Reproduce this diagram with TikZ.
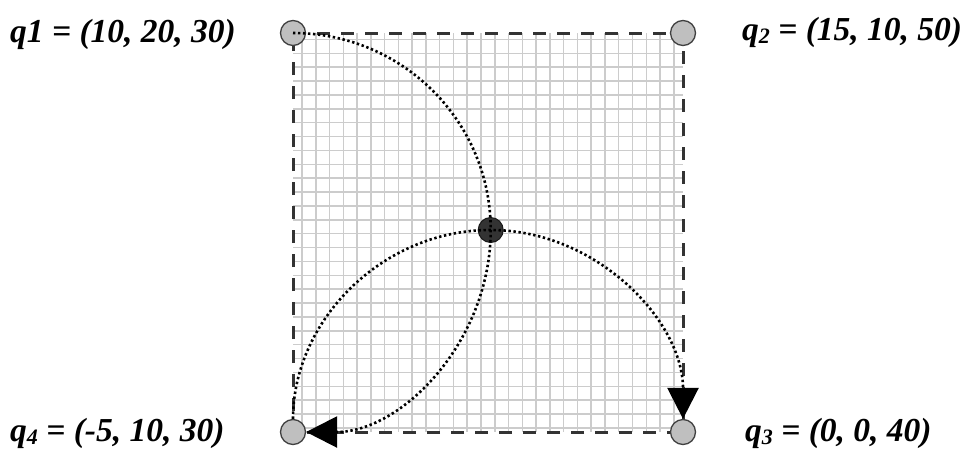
\documentclass[tikz,border=0pt]{standalone}
\usepackage{fontspec}
\setmainfont{Liberation Serif}
\usetikzlibrary{arrows.meta}
\newcommand{\mysub}[1]{\raisebox{-3.5pt}{\fontsize{22}{24}\selectfont #1}}
\begin{document}
\begin{tikzpicture}[x=1pt,y=-1pt,
  corner/.style={circle,draw=black!75,fill=black!25,line width=1.3pt,minimum size=25pt,inner sep=0pt},
  ctr/.style={circle,draw=black!90,fill=black!80,line width=1pt,minimum size=25pt,inner sep=0pt},
  lbl/.style={anchor=base west,font=\fontsize{33.5}{40}\selectfont\bfseries\itshape,inner sep=0pt},
  gridline/.style={draw=black!20,line width=1.5pt},
  border/.style={draw=black!80,line width=3pt,dash pattern=on 13pt off 11pt},
  dotcurve/.style={draw=black,line width=2.6pt,dash pattern=on 2.4pt off 2.6pt},
  tip/.style={-{Triangle[length=31pt,width=31pt]}}
]
\useasboundingbox (0,0) rectangle (968,450);
% grid
\foreach \i in {0,...,27} \draw[gridline] ({302+13.77*\i},33) -- ({302+13.77*\i},432);
\foreach \j in {0,...,28} \draw[gridline] (293,{39.5+13.87*\j}) -- (683,{39.5+13.87*\j});
% frame corners
\coordinate (p1) at (293,33);
\coordinate (p2) at (683,33);
\coordinate (p3) at (683,432);
\coordinate (p4) at (293,432);
\draw[border] (p1) -- (p2) -- (p3) -- (p4) -- cycle;
% corner and centre nodes
\node[corner] (q1) at (p1) {};
\node[corner] (q2) at (p2) {};
\node[corner] (q3) at (p3) {};
\node[corner] (q4) at (p4) {};
\node[ctr] (c) at (490.7,230) {};
% curves
\draw[dotcurve,tip] (q1.center) .. controls +(109,0) and +(0,-109) .. (c.center)
   .. controls +(0,111) and +(109,0) .. (q4);
\draw[dotcurve,tip] (q4) .. controls +(0,-111) and +(-109,0) .. (c.center)
   .. controls +(106,0) and +(0,-111) .. (q3);
% labels
\node[lbl] (l1) at (10,42) {q1 = (10, 20, 30)};
\node[lbl] (l2) at (742,40) {q\mysub{2} = (15, 10, 50)};
\node[lbl] (l4) at (10,441) {q\mysub{4} = (-5, 10, 30)};
\node[lbl] (l3) at (745,441) {q\mysub{3} = (0, 0, 40)};
\end{tikzpicture}
\end{document}
